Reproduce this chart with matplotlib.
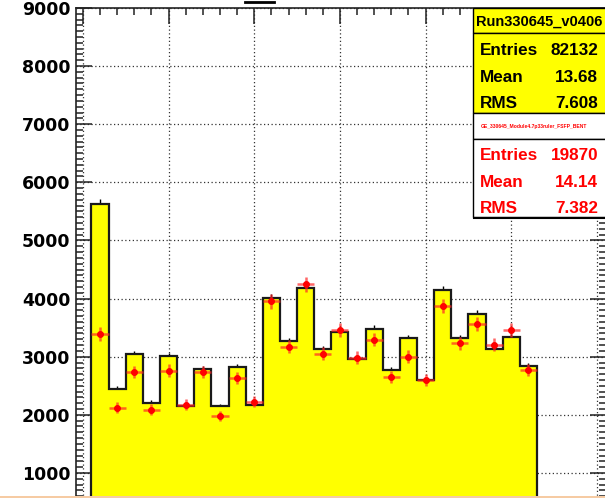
import numpy as np
import matplotlib
matplotlib.use("Agg")
import matplotlib.pyplot as plt
from matplotlib.patches import Rectangle
from matplotlib.lines import Line2D
from matplotlib.ticker import MultipleLocator, FixedFormatter, FixedLocator

# ---------------- data ----------------
bin_edges = np.arange(0.5, 27.0, 1.0)          # 26 bins, centres 1..26
ref_counts = [5630, 2440, 3050, 2210, 3010, 2145, 2790, 2145, 2820, 2170,
              4010, 3270, 4185, 3125, 3420, 2960, 3480, 2765, 3315, 2595,
              4145, 3315, 3740, 3125, 3340, 2845]
cmp_counts = [3385, 2120, 2735, 2085, 2760, 2170, 2740, 1980, 2630, 2225,
              3955, 3170, 4245, 3055, 3455, 2980, 3295, 2655, 3000, 2595,
              3870, 3230, 3570, 3205, 3455, 2770]
ref_title = "Run330645_v0406"
ref_stats = [("Entries", "82132"), ("Mean", "13.68"), ("RMS", "7.608")]
cmp_title = "GE_330645_Module4.7p33ruler_FSFP_BENT"
cmp_stats = [("Entries", "19870"), ("Mean", "14.14"), ("RMS", "7.382")]
y_ticks = [1000, 2000, 3000, 4000, 5000, 6000, 7000, 8000, 9000]
y_labels = ["1000", "2000", "3000", "4000", "5000", "6000", "7000", "8000", "9000"]

W, H = 605, 498
fig = plt.figure(figsize=(W / 100, H / 100), dpi=100)
fig.patch.set_facecolor("white")

def fx(px):
    return px / W

def fy(py):
    return 1 - py / H

# axes placed so that the frame is cropped like the reference
left_px, right_px = 75.7, 605.5
top_px, zero_px = 7.9, 531.1
ax = fig.add_axes([fx(left_px), fy(zero_px), fx(right_px - left_px),
                   (zero_px - top_px) / H])
ax.set_xlim(-0.42, 30.5)
ax.set_ylim(0, 9000)

centers = 0.5 * (bin_edges[:-1] + bin_edges[1:])
ref = np.array(ref_counts, float)
cmpv = np.array(cmp_counts, float)
scale = int(ref_stats[0][1]) / int(cmp_stats[0][1])

# histogram error bars (only the part above the fill shows)
ax.vlines(centers, ref - np.sqrt(ref), ref + np.sqrt(ref), color="black",
          lw=1.0, zorder=2)
ax.stairs(ref, bin_edges, fill=True, facecolor="#ffff00", edgecolor="#1a1a1a",
          linewidth=1.6, zorder=3)

# red comparison points
ax.errorbar(centers, cmpv, xerr=0.5, yerr=np.sqrt(cmpv * scale), fmt="o",
            color="#ff0000", ms=4, mec="#ff0000", ecolor=(1, 0.15, 0.15, 0.7),
            elinewidth=1.8, capsize=0, zorder=4)

# grid / ticks
ax.xaxis.set_major_locator(MultipleLocator(5))
ax.xaxis.set_minor_locator(MultipleLocator(1))
ax.yaxis.set_major_locator(FixedLocator(y_ticks))
ax.yaxis.set_major_formatter(FixedFormatter(y_labels))
ax.yaxis.set_minor_locator(MultipleLocator(100))
ax.grid(True, which="major", color="#333333", linestyle=(0, (1, 2)), lw=0.9,
        zorder=1)
ax.set_axisbelow(True)

ax.tick_params(which="both", direction="in", top=True, right=True,
               bottom=True, left=True, color="#222222", width=1.1)
ax.tick_params(which="major", length=11.5, pad=4)
ax.tick_params(which="minor", length=5.3)
ax.tick_params(axis="x", labelbottom=False)
for lab in ax.get_yticklabels():
    lab.set_fontfamily("DejaVu Sans")
    lab.set_fontweight("bold")
    lab.set_fontsize(12.5)
for s in ax.spines.values():
    s.set_color("#222222")
    s.set_linewidth(1.2)

# ---------------- stats boxes ----------------
bx = 473.3
def box(y0, y1, face, lw=1.0):
    r = Rectangle((fx(bx), fy(y1)), fx(W + 5 - bx), (y1 - y0) / H,
                  transform=fig.transFigure, facecolor=face,
                  edgecolor="black", linewidth=lw, zorder=5)
    fig.add_artist(r)

box(8.3, 33.3, "#ffff00")
box(33.3, 113.3, "#ffff00")
box(113.3, 138.7, "white")
box(138.7, 216.7, "white")
# shadow under the lower box
fig.add_artist(Line2D([fx(bx + 1), 1], [fy(217.8)] * 2, color="black",
                      lw=1.5, transform=fig.transFigure, zorder=6))

tfont = dict(family="Liberation Sans", weight="bold")
fig.text(fx(476), fy(25.5), ref_title, fontsize=10.5, color="black",
         va="baseline", ha="left", zorder=7, **tfont)
for (name, val), yb in zip(ref_stats, [55.3, 82.0, 107.5]):
    fig.text(fx(480), fy(yb), name, fontsize=12.3, color="black",
             va="baseline", ha="left", zorder=7, **tfont)
    fig.text(fx(598.3), fy(yb), val, fontsize=12.3, color="black",
             va="baseline", ha="right", zorder=7, **tfont)
fig.text(fx(480.7), fy(127.5), cmp_title, fontsize=3.6, color="#ff0000",
         va="baseline", ha="left", zorder=7, **tfont)
for (name, val), yb in zip(cmp_stats, [159.5, 186.7, 212.7]):
    fig.text(fx(480), fy(yb), name, fontsize=12.3, color="#ff0000",
             va="baseline", ha="left", zorder=7, **tfont)
    fig.text(fx(598.3), fy(yb), val, fontsize=12.3, color="#ff0000",
             va="baseline", ha="right", zorder=7, **tfont)

# cropped title-box edge at the top and the bottom strip of the capture
fig.add_artist(Line2D([fx(245), fx(274)], [fy(2)] * 2, color="black", lw=2,
                      transform=fig.transFigure, zorder=7))
fig.add_artist(Rectangle((0, 0), 1, 1.8 / H, transform=fig.transFigure,
                         facecolor="#f6cba3", edgecolor="none", zorder=8))

fig.savefig("out.png", dpi=100)
